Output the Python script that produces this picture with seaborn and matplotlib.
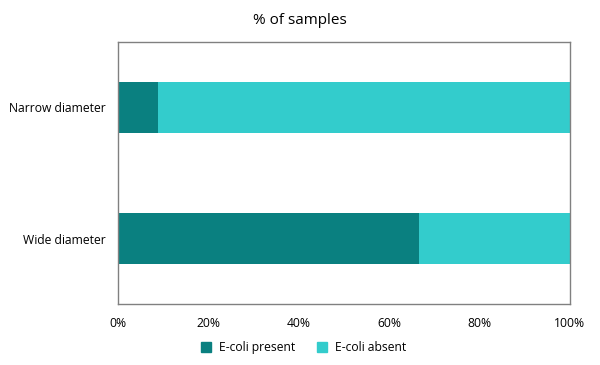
import matplotlib
matplotlib.use("Agg")
import matplotlib.pyplot as plt
import seaborn as sns
import pandas as pd
import numpy as np
from matplotlib.lines import Line2D
from matplotlib.ticker import FuncFormatter

categories = ["Narrow diameter", "Wide diameter"]
present = [9.0, 66.7]
absent = [91.0, 33.3]
series_names = ["E-coli present", "E-coli absent"]
c_present = "#0a8080"
c_absent = "#33cccc"

sns.set_theme(style="white")
plt.rcParams["font.family"] = ["Open Sans", "DejaVu Sans"]
plt.rcParams["text.color"] = "#000000"

df = pd.DataFrame({"category": categories, "present": present, "absent": absent})
df["total"] = df["present"] + df["absent"]

fig = plt.figure(figsize=(6, 3.65), dpi=100)
ax = fig.add_axes([0.196, 0.167, 0.754, 0.718])

sns.barplot(data=df, y="category", x="total", color=c_absent, orient="h",
            width=0.39, ax=ax, saturation=1, linewidth=0)
sns.barplot(data=df, y="category", x="present", color=c_present, orient="h",
            width=0.39, ax=ax, saturation=1, linewidth=0)

ax.set_xlim(0, 100)
ax.set_ylim(1.5, -0.5)
ax.set_xticks([0, 20, 40, 60, 80, 100])
ax.xaxis.set_major_formatter(FuncFormatter(lambda v, p: f"{int(v)}%"))
ax.set_xlabel("")
ax.set_ylabel("")
ax.tick_params(axis="both", length=0, labelsize=8.7, colors="#000000")
ax.tick_params(axis="x", pad=9)
ax.tick_params(axis="y", pad=8.5)
for s in ax.spines.values():
    s.set_visible(True)
    s.set_color("#808080")
    s.set_linewidth(1)

fig.text(0.5, 0.945, "% of samples", ha="center", va="center", fontsize=11,
         color="#000000")

handles = [Line2D([0], [0], marker="s", linestyle="none", markersize=6.5,
                  markerfacecolor=c, markeredgecolor=c) for c in (c_present, c_absent)]
fig.legend(handles, series_names, loc="center", bbox_to_anchor=(0.5, 0.048),
           ncol=2, frameon=False, fontsize=8.7, handletextpad=0.05, columnspacing=1.2)

fig.savefig("out.png", dpi=100)
